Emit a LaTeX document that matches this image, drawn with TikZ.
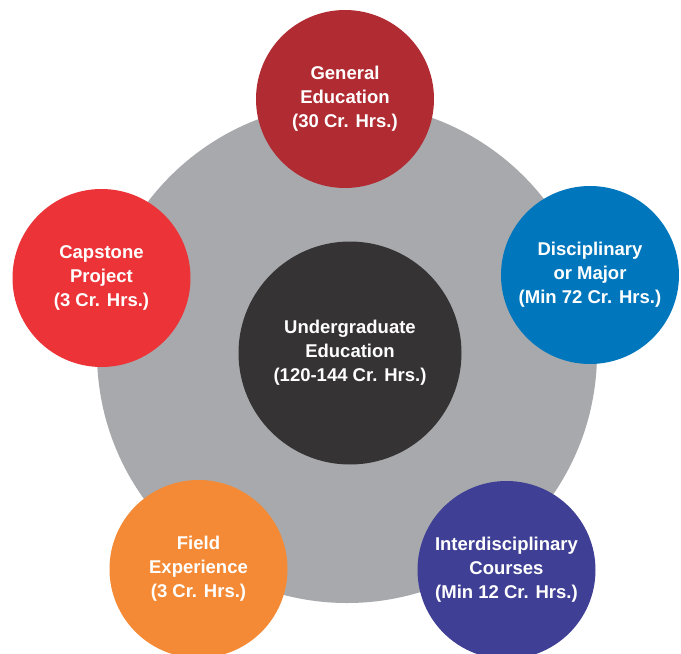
\documentclass[tikz,border=0pt]{standalone}
\usepackage{fontspec}
\setmainfont{Liberation Sans}
\definecolor{ringgray}{HTML}{A7A9AC}
\definecolor{coredark}{HTML}{353334}
\definecolor{genred}{HTML}{B02C32}
\definecolor{discblue}{HTML}{0077BD}
\definecolor{capred}{HTML}{EC3338}
\definecolor{fieldorange}{HTML}{F48A35}
\definecolor{interindigo}{HTML}{3F4095}
\tikzset{
  bubble/.style={circle, inner sep=0pt, minimum size=178pt, text=white,
    align=center, font=\bfseries\fontsize{18.5}{24}\selectfont}
}
\begin{document}
\begin{tikzpicture}[x=1pt,y=-1pt]
\useasboundingbox (0,0) rectangle (681,654);
\clip (0,0) rectangle (681,654);
\fill[white] (0,0) rectangle (681,654);
\node[circle, inner sep=0pt, minimum size=500pt, fill=ringgray] (ring) at (347,353) {};
\node[bubble, minimum size=223pt, fill=coredark] (core) at (350,353)
  {Undergraduate\\Education\\(120-144 Cr. Hrs.)};
\node[bubble, fill=genred] (gen) at (345,99)
  {General\\Education\\(30 Cr. Hrs.)};
\node[bubble, fill=discblue] (disc) at (590,275)
  {Disciplinary\\or Major\\(Min 72 Cr. Hrs.)};
\node[bubble, fill=interindigo] (inter) at (506.5,570)
  {Interdisciplinary\\Courses\\(Min 12 Cr. Hrs.)};
\node[bubble, fill=fieldorange] (field) at (198.5,569)
  {Field\\Experience\\(3 Cr. Hrs.)};
\node[bubble, fill=capred] (cap) at (101.5,278)
  {Capstone\\Project\\(3 Cr. Hrs.)};
\end{tikzpicture}
\end{document}
